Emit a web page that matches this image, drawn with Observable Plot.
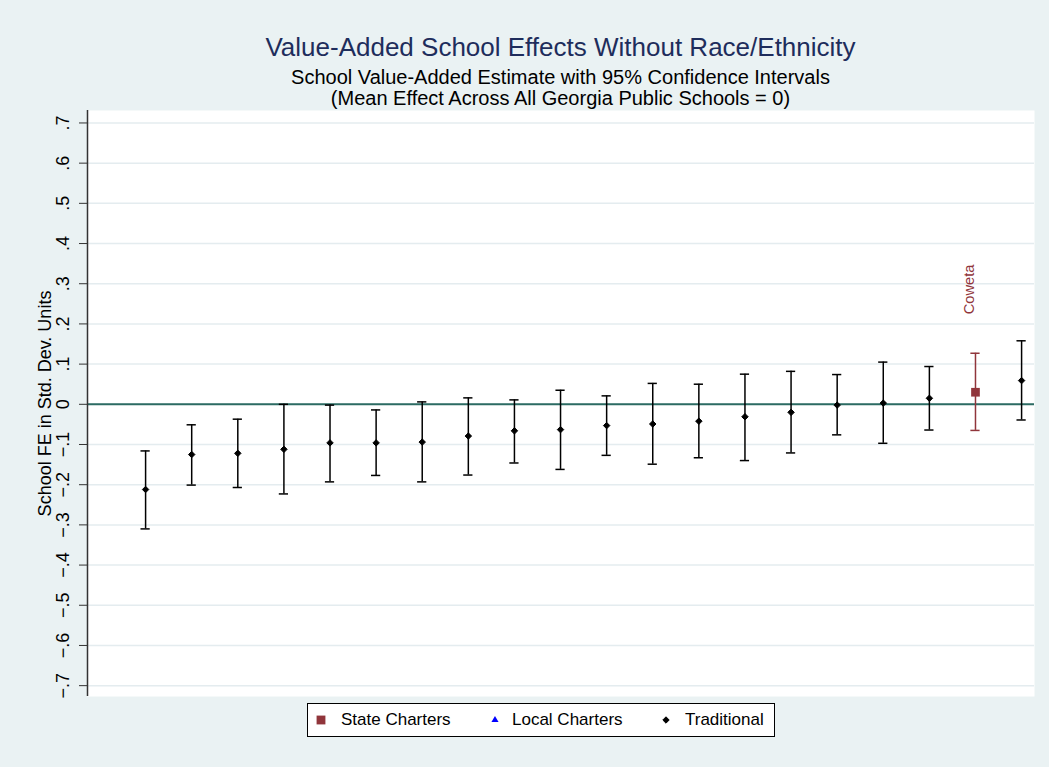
<!DOCTYPE html>
<html><head><meta charset="utf-8">
<script src="https://cdn.jsdelivr.net/npm/d3@7"></script>
<script src="https://cdn.jsdelivr.net/npm/@observablehq/plot@0.6"></script>
<style>
html,body{margin:0;padding:0;background:#eaf2f3;}
#wrap{width:1049px;height:767px;background:#eaf2f3;position:relative;overflow:hidden;font-family:"Liberation Sans",Arial,sans-serif;}
#head{position:absolute;left:87px;width:947px;top:0;height:100px;text-align:center;}
#title{position:absolute;left:0;right:0;top:34px;font-size:26px;line-height:26px;color:#1e2d5c;white-space:nowrap;}
#sub{position:absolute;left:0;right:0;top:67px;font-size:20px;line-height:21px;color:#000;white-space:nowrap;}
#chart{position:absolute;left:0;top:100px;}
#legend{position:absolute;left:307px;top:703px;width:466px;height:32px;background:#fff;border:1px solid #000;font-size:17px;color:#000;}
#legend span.t{position:absolute;top:6px;line-height:20px;white-space:nowrap;}
#legend svg{position:absolute;top:0;}
</style></head>
<body><div id="wrap">
<div id="head"><div id="title"></div><div id="sub"></div></div>
<div id="chart"></div>
<div id="legend"></div>
</div>
<script>
// ---- data ----
const ranks = [1,2,3,4,5,6,7,8,9,10,11,12,13,14,15,16,17,18,19,20];
const estimates = [-0.212,-0.125,-0.122,-0.112,-0.096,-0.096,-0.094,-0.079,-0.066,-0.063,-0.053,-0.049,-0.042,-0.031,-0.020,-0.002,0.003,0.015,0.030,0.059];
const lowerCI   = [-0.310,-0.201,-0.207,-0.223,-0.193,-0.177,-0.193,-0.176,-0.146,-0.162,-0.127,-0.149,-0.133,-0.140,-0.121,-0.076,-0.097,-0.064,-0.065,-0.039];
const upperCI   = [-0.116,-0.051,-0.037,0.000,-0.002,-0.014,0.006,0.016,0.011,0.035,0.021,0.052,0.050,0.075,0.082,0.074,0.105,0.094,0.127,0.158];
const schoolType = ["Traditional","Traditional","Traditional","Traditional","Traditional","Traditional","Traditional","Traditional","Traditional","Traditional","Traditional","Traditional","Traditional","Traditional","Traditional","Traditional","Traditional","Traditional","State Charters","Traditional"];
const schoolLabel = ["","","","","","","","","","","","","","","","","","","Coweta",""];
const yTicks = [-0.7,-0.6,-0.5,-0.4,-0.3,-0.2,-0.1,0,0.1,0.2,0.3,0.4,0.5,0.6,0.7];
const legendLabels = ["State Charters","Local Charters","Traditional"];
const titleText = "Value-Added School Effects Without Race/Ethnicity";
const subtitleLines = ["School Value-Added Estimate with 95% Confidence Intervals","(Mean Effect Across All Georgia Public Schools = 0)"];
const yLabel = "School FE in Std. Dev. Units";

// ---- styles ----
const typeColor = {"State Charters":"#90353b","Local Charters":"#0000ff","Traditional":"#000000"};

const data = ranks.map((r,i)=>({rank:r, est:estimates[i], lo:lowerCI[i], hi:upperCI[i], type:schoolType[i], label:schoolLabel[i]}));
const trad = data.filter(d=>d.type==="Traditional");
const state = data.filter(d=>d.type==="State Charters");
const labelled = data.filter(d=>d.label);

document.getElementById("title").textContent = titleText;
document.getElementById("sub").innerHTML = subtitleLines.map(s=>s.replace(/&/g,"&amp;")).join("<br>");

const fmt = d => d===0 ? "0" : d3.format(".1f")(d).replace("0.", ".");
const xDomain = [-0.26, 20.28];
const capHalf = 0.1;

const chart = Plot.plot({
  width: 1049,
  height: 600,
  marginLeft: 87,
  marginRight: 15,
  marginTop: 10,
  marginBottom: 4,
  style: {background: "transparent", fontFamily: "'Liberation Sans', Arial, sans-serif", fontSize: "18px", color: "#000"},
  x: {domain: xDomain, axis: null},
  y: {domain: [-0.727, 0.731]},
  marks: [
    Plot.frame({fill: "#ffffff", stroke: null}),
    Plot.gridY(yTicks, {stroke: "#e4ecef", strokeOpacity: 1, strokeWidth: 1.5}),
    Plot.ruleY([0], {stroke: "#2c6b63", strokeWidth: 2}),
    Plot.ruleX([xDomain[0]], {stroke: "#333333", strokeWidth: 1.5}),
    Plot.axisY(yTicks, {tickFormat: fmt, tickRotate: -90, tickSize: 8, tickPadding: 11, fontSize: 18, stroke: "#333", label: yLabel, labelAnchor: "center", labelOffset: 49, labelArrow: "none"}),
    // error bars
    Plot.ruleX(data, {x: "rank", y1: "lo", y2: "hi", stroke: d => typeColor[d.type], strokeWidth: 1.5}),
    Plot.ruleY(data, {y: "lo", x1: d => d.rank - capHalf, x2: d => d.rank + capHalf, stroke: d => typeColor[d.type], strokeWidth: 1.5}),
    Plot.ruleY(data, {y: "hi", x1: d => d.rank - capHalf, x2: d => d.rank + capHalf, stroke: d => typeColor[d.type], strokeWidth: 1.5}),
    // points
    Plot.dot(trad, {x: "rank", y: "est", symbol: "diamond2", r: 2.9, fill: "#000", stroke: "#000", strokeWidth: 1}),
    Plot.dot(state, {x: "rank", y: "est", symbol: "square", r: 4.9, fill: typeColor["State Charters"], stroke: null}),
    // label
    Plot.text(labelled, {x: "rank", y: "hi", text: "label", rotate: -90, textAnchor: "start", dy: -39, dx: -6, fontSize: 14.7, fill: d => typeColor[d.type]})
  ]
});
document.getElementById("chart").appendChild(chart);

// ---- legend ----
const leg = document.getElementById("legend");
const itemPos = [{sym: 13, txt: 33}, {sym: 187, txt: 204}, {sym: 358, txt: 377}];
legendLabels.forEach((lab, i) => {
  const p = itemPos[i];
  const s = d3.create("svg").attr("width", 16).attr("height", 32).style("left", (p.sym - 8) + "px");
  const sz = lab === "State Charters" ? 78 : lab === "Local Charters" ? 22 : 26;
  const symType = lab === "State Charters" ? d3.symbolSquare : lab === "Local Charters" ? d3.symbolTriangle : d3.symbolDiamond2;
  s.append("path").attr("transform", "translate(8,16)").attr("d", d3.symbol(symType, sz)())
    .attr("fill", typeColor[lab]).attr("stroke", lab === "Traditional" ? "#000" : "none");
  leg.appendChild(s.node());
  const t = document.createElement("span");
  t.className = "t"; t.style.left = p.txt + "px"; t.textContent = lab;
  leg.appendChild(t);
});
</script>
</body></html>
